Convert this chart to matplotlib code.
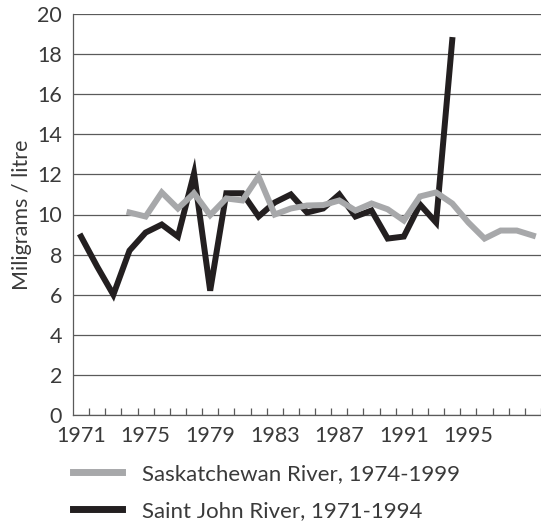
import matplotlib
matplotlib.use("Agg")
import matplotlib.pyplot as plt
from matplotlib.lines import Line2D

plt.rcParams['font.family'] = ['Lato', 'DejaVu Sans']

sj_years = list(range(1971, 1995))
sj_vals = [8.9, 7.4, 6.0, 8.2, 9.1, 9.5, 8.9, 12.05, 6.2, 11.06, 11.06, 9.9,
           10.6, 11.0, 10.1, 10.3, 11.0, 9.9, 10.2, 8.8, 8.9, 10.5, 9.6, 18.7]
sk_years = list(range(1974, 2000))
sk_vals = [10.1, 9.9, 11.1, 10.3, 11.06, 9.97, 10.8, 10.7, 11.9, 10.0,
           10.3, 10.45, 10.47, 10.7, 10.2, 10.55, 10.26, 9.7, 10.9, 11.1,
           10.55, 9.6, 8.8, 9.2, 9.2, 8.95]
yticks = list(range(0, 21, 2))
xlabels = [1971, 1975, 1979, 1983, 1987, 1991, 1995]

GRAY = '#a7a8aa'
BLACK = '#231f20'
TXT = '#3a3a3a'
FS = 15.5

fig = plt.figure(figsize=(5.41, 5.21), dpi=100)
ax = fig.add_axes([73/541, 1 - 415/521, 1 - 73/541, 401/521])

for y in yticks:
    ax.axhline(y, color='#5a5a5a', lw=0.9, zorder=1)

ax.plot(sj_years, sj_vals, color=BLACK, lw=4.3, solid_joinstyle='miter', zorder=3)
ax.plot(sk_years, sk_vals, color=GRAY, lw=4.3, solid_joinstyle='miter', zorder=4)

ax.set_xlim(1970.5, 1999.5)
ax.set_ylim(0, 20)
ax.set_yticks(yticks)
ax.set_yticklabels([str(v) for v in yticks])
ax.tick_params(axis='y', length=0, pad=8, labelsize=FS, labelcolor=TXT)
ax.set_xticks(xlabels)
ax.set_xticklabels([str(v) for v in xlabels])
ax.set_xticks([y + 0.5 for y in range(1971, 2000)], minor=True)
ax.tick_params(axis='x', which='major', length=0, pad=8, labelsize=FS, labelcolor=TXT)
ax.tick_params(axis='x', which='minor', direction='in', length=5, color='#5a5a5a', width=0.9)

for s in ['top', 'right']:
    ax.spines[s].set_visible(False)
ax.spines['left'].set_color('#5a5a5a')
ax.spines['left'].set_linewidth(0.9)
ax.spines['bottom'].set_color('#5a5a5a')
ax.spines['bottom'].set_linewidth(0.9)

fig.text(22/541, 1 - 215/521, 'Miligrams / litre', rotation=90, fontsize=FS,
         color=TXT, ha='center', va='center')

handles = [Line2D([], [], color=GRAY, lw=5), Line2D([], [], color=BLACK, lw=5)]
fig.legend(handles, ['Saskatchewan River, 1974-1999', 'Saint John River, 1971-1994'],
           loc='upper left', bbox_to_anchor=(73/541, 1 - 464/521), frameon=False,
           fontsize=16, handlelength=2.2, handletextpad=0.9, labelspacing=0.75,
           borderaxespad=0, borderpad=0, labelcolor=TXT)

fig.savefig('out.png', dpi=100)
